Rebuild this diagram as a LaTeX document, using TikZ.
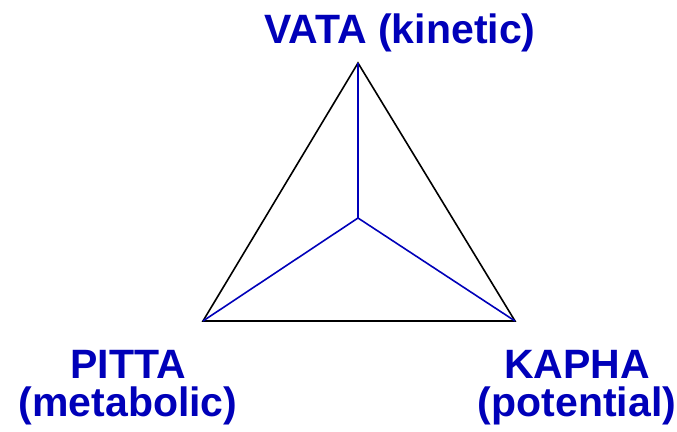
\documentclass[tikz,border=0pt]{standalone}
\usepackage{fontspec}
\setmainfont{Liberation Sans}
\definecolor{doshablue}{RGB}{0,0,185}

\begin{document}
\begin{tikzpicture}[x=1pt,y=-1pt,
        lbl/.style={text=doshablue, font=\fontsize{41}{38}\selectfont\bfseries, align=center, inner sep=0pt, anchor=base}]

        \useasboundingbox (0,0) rectangle (677,431);

        % Nodes
        \coordinate (V) at (358,63);
        \coordinate (P) at (203,321);
        \coordinate (K) at (515,321);
        \coordinate (O) at (358,218);

        \node[lbl] (VL) at (400,43) {VATA (kinetic)};
        \node[lbl] (PL) at (128,416) {PITTA\\(metabolic)};
        \node[lbl] (KL) at (577,416) {KAPHA\\(potential)};

        % Edges
        \draw[line width=1.6pt, line join=miter] (V) -- (P) -- (K) -- cycle;
        \draw[line width=1.6pt, doshablue] (O) -- (V);
        \draw[line width=1.6pt, doshablue] (O) -- (P);
        \draw[line width=1.6pt, doshablue] (O) -- (K);

    \end{tikzpicture}
\end{document}
